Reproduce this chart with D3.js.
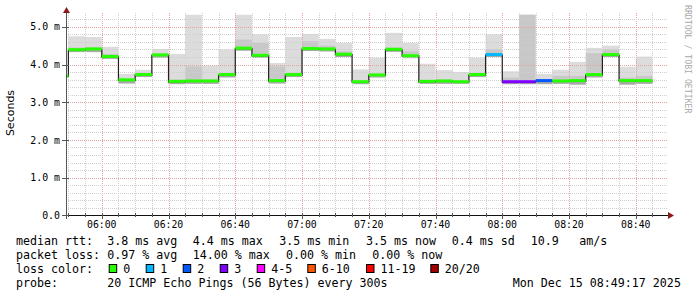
<!DOCTYPE html>
<html>
<head>
<meta charset="utf-8">
<style>
  body { margin: 0; background: #fff; }
  svg { display: block; }
  text { font-family: "DejaVu Sans Mono", monospace; fill: #000; }
</style>
</head>
<body>
<div id="chart"></div>
<script src="https://d3js.org/d3.v7.min.js"></script>
<script>
// 5 minute slots (start time of each step)
const slots = ['05:45','05:50','05:55','06:00','06:05','06:10','06:15','06:20','06:25','06:30',
               '06:35','06:40','06:45','06:50','06:55','07:00','07:05','07:10','07:15','07:20',
               '07:25','07:30','07:35','07:40','07:45','07:50','07:55','08:00','08:05','08:10',
               '08:15','08:20','08:25','08:30','08:35','08:40'];
// median rtt in ms
const median = [3.69,4.38,4.40,4.20,3.58,3.72,4.24,3.54,3.55,3.55,
                3.72,4.42,4.23,3.56,3.72,4.41,4.40,4.26,3.53,3.71,
                4.39,4.22,3.54,3.55,3.53,3.72,4.25,3.53,3.53,3.56,
                3.55,3.56,3.72,4.25,3.56,3.56];
// smoke: lowest ping, top of the dense band, highest ping (ms)
const smokeLo = [3.65,4.33,4.33,4.15,3.50,3.67,4.18,3.48,3.49,3.49,
                 3.66,4.37,4.18,3.50,3.67,4.36,4.35,4.20,3.48,3.66,
                 4.34,4.17,3.49,3.49,3.49,3.67,4.20,3.48,3.48,3.48,
                 3.49,3.47,3.66,4.20,3.47,3.49];
const smokeMid = [3.72,4.45,4.45,4.28,3.62,3.76,4.30,3.60,3.95,3.60,
                  3.76,4.66,4.57,3.95,3.78,4.62,4.50,4.35,3.58,3.75,
                  4.45,4.35,3.58,3.60,3.58,3.76,4.40,3.65,5.32,3.60,
                  3.70,3.70,4.30,4.40,3.65,3.70];
const smokeHi = [3.72,4.75,4.73,4.47,3.75,3.86,4.41,4.28,5.32,3.97,
                 4.40,5.32,4.80,4.04,4.73,4.81,4.68,4.57,3.87,4.18,
                 4.84,4.57,4.02,3.85,3.80,4.18,4.80,3.82,5.32,3.75,
                 3.86,4.07,4.44,4.50,3.94,4.21];
// lost pings out of 20
const lost = [0,0,0,0,0,0,0,0,0,0, 0,0,0,0,0,0,0,0,0,0, 0,0,0,0,0,0,1,3,3,2, 0,0,0,0,0,0];

const yTicks = [0, 1, 2, 3, 4, 5];
const yTickLabels = ['0.0', '1.0 m', '2.0 m', '3.0 m', '4.0 m', '5.0 m'];
const lossLabels = ['0', '1', '2', '3', '4-5', '6-10', '11-19', '20/20'];
const lossColors = ['#26ff00', '#00b8ff', '#0059ff', '#7e00ff', '#ff00ff', '#ff5500', '#ff0000', '#a10000'];
const lossUpper = [0, 1, 2, 3, 5, 10, 19, 20];

const W = 697, H = 297;
const svg = d3.select('#chart').append('svg').attr('width', W).attr('height', H);
svg.append('rect').attr('width', W).attr('height', H).attr('fill', '#fff');

const parseHM = d3.timeParse('%H:%M');
const parseHMS = d3.timeParse('%H:%M:%S');
const t0 = parseHMS('05:49:17'), t1 = parseHMS('08:49:17');
const plot = { left: 66, right: 666.75, top: 13, bottom: 215.3 };

const x = d3.scaleTime().domain([t0, t1]).range([plot.left, plot.right]);
const y = d3.scaleLinear().domain([0, 5]).range([plot.bottom, 26.8]);

const slotTimes = slots.map(parseHM);
const slotEnd = i => d3.timeMinute.offset(slotTimes[i], 5);
const xs = i => Math.max(x(slotTimes[i]), plot.left);

// smoke
const smoke = svg.append('g');
slots.forEach((s, i) => {
  const x0 = xs(i), x1 = x(slotEnd(i));
  smoke.append('rect').attr('x', x0).attr('width', x1 - x0)
    .attr('y', y(smokeHi[i])).attr('height', y(smokeLo[i]) - y(smokeHi[i]))
    .attr('fill', '#dcdcdc');
  smoke.append('rect').attr('x', x0).attr('width', x1 - x0)
    .attr('y', y(smokeMid[i])).attr('height', y(smokeLo[i]) - y(smokeMid[i]))
    .attr('fill', '#c8c8c8');
  smoke.append('rect').attr('x', x0).attr('width', x1 - x0)
    .attr('y', y(median[i]) - 1).attr('height', y(smokeLo[i]) - y(median[i]) + 1)
    .attr('fill', '#a8a8a8');
});

// grid
const grid = svg.append('g').attr('shape-rendering', 'crispEdges');
const minorX = x.ticks(d3.timeMinute.every(5));
const majorX = x.ticks(d3.timeMinute.every(20));
minorX.forEach(t => {
  const major = t.getMinutes() % 20 === 0;
  grid.append('line').attr('x1', Math.round(x(t)) + 0.5).attr('x2', Math.round(x(t)) + 0.5)
    .attr('y1', plot.top).attr('y2', plot.bottom)
    .attr('stroke', major ? '#e6a2a2' : '#cfcfcf').attr('stroke-dasharray', '1,1');
});
d3.range(0.2, 5.4, 0.2).forEach(v => {
  const major = Math.abs(v - Math.round(v)) < 1e-6;
  const yy = Math.round(y(v)) + 0.5;
  grid.append('line').attr('x1', plot.left).attr('x2', 668)
    .attr('y1', yy).attr('y2', yy)
    .attr('stroke', major ? '#e6a2a2' : '#cfcfcf').attr('stroke-dasharray', '1,1');
});

// median step line
const pts = slots.map((s, i) => [xs(i), y(median[i])]);
pts.push([x(slotEnd(slots.length - 1)), y(median[median.length - 1])]);
svg.append('path').attr('d', d3.line().curve(d3.curveStepAfter)(pts))
  .attr('fill', 'none').attr('stroke', '#202020').attr('stroke-width', 1.2);

const lossClass = n => lossUpper.findIndex(u => n <= u);
slots.forEach((s, i) => {
  svg.append('rect').attr('x', xs(i)).attr('width', x(slotEnd(i)) - xs(i))
    .attr('y', y(median[i]) - 2).attr('height', 3)
    .attr('fill', lossColors[lossClass(lost[i])]);
});

// axes
const ax = svg.append('g').attr('shape-rendering', 'crispEdges');
ax.append('line').attr('x1', 66.5).attr('x2', 66.5).attr('y1', 11).attr('y2', 219)
  .attr('stroke', '#555');
ax.append('line').attr('x1', 62).attr('x2', 670).attr('y1', 215.5).attr('y2', 215.5)
  .attr('stroke', '#111');
svg.append('path').attr('d', 'M66.5,7 L63,13 L70,13 Z').attr('fill', '#8c1a1a');
svg.append('path').attr('d', 'M674,215.5 L668,212 L668,219 Z').attr('fill', '#8c1a1a');

minorX.forEach(t => {
  const major = t.getMinutes() % 20 === 0;
  const xx = Math.round(x(t)) + 0.5;
  ax.append('line').attr('x1', xx).attr('x2', xx).attr('y1', 213).attr('y2', major ? 219 : 217)
    .attr('stroke', '#555');
});
yTicks.forEach(v => {
  const yy = Math.round(y(v)) + 0.5;
  ax.append('line').attr('x1', 62).attr('x2', 69).attr('y1', yy).attr('y2', yy).attr('stroke', '#555');
});

svg.append('g').selectAll('text').data(yTicks).join('text')
  .attr('x', 60).attr('y', d => y(d) + 3.6).attr('text-anchor', 'end')
  .attr('font-size', '9.9px').text((d, i) => yTickLabels[i]);

svg.append('g').selectAll('text').data(majorX).join('text')
  .attr('x', d => x(d)).attr('y', 228).attr('text-anchor', 'middle')
  .attr('font-size', '9.8px').text(d3.timeFormat('%H:%M'));

svg.append('text').attr('transform', 'translate(14,113) rotate(-90)')
  .attr('text-anchor', 'middle').attr('font-size', '11px')
  .style('font-family', '"DejaVu Sans", sans-serif').text('Seconds');

svg.append('text').attr('transform', 'translate(685,5) rotate(90)')
  .attr('font-size', '8.2px').style('fill', '#aaa').text('RRDTOOL / TOBI OETIKER');

// legend
const fs = '11.65px';
const legend = svg.append('g').attr('font-size', fs);
const put = (tx, xx, yy) => legend.append('text').attr('x', xx).attr('y', yy)
  .attr('xml:space', 'preserve').text(tx);

put('median rtt:', 16, 245);
[['3.8 ms avg', 107.3], ['4.4 ms max', 192.7], ['3.5 ms min', 279.3], ['3.5 ms now', 366],
 ['0.4 ms sd', 451.7], ['10.9', 530.7], ['am/s', 579.3]].forEach(d => put(d[0], d[1], 245));

put('packet loss:', 16, 259);
[['0.97 % avg', 107.3], ['14.00 % max', 192.7], ['0.00 % min', 286], ['0.00 % now', 372.3]]
  .forEach(d => put(d[0], d[1], 259));

put('loss color:', 16, 273);
const swatchX = [108.7, 145.7, 182.7, 219.7, 256.7, 307.3, 366, 430.3];
lossLabels.forEach((l, i) => {
  legend.append('rect').attr('x', swatchX[i] + 0.5).attr('y', 264.5).attr('width', 7.5).attr('height', 8)
    .attr('fill', lossColors[i]).attr('stroke', '#000').attr('stroke-width', 1);
  put(l, swatchX[i] + 14.5, 273);
});

put('probe:', 16, 287);
put('20 ICMP Echo Pings (56 Bytes) every 300s', 107.3, 287);
put('Mon Dec 15 08:49:17 2025', 512.7, 287);
</script>
</body>
</html>
